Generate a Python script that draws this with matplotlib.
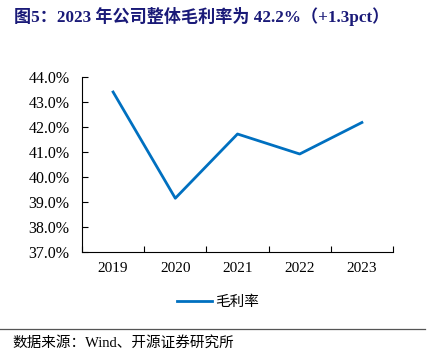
import matplotlib.pyplot as plt

years = ["2019", "2020", "2021", "2022", "2023"]
gross_margin = [43.4, 39.15, 41.72, 40.92, 42.18]
y_ticks = [37, 38, 39, 40, 41, 42, 43, 44]

plt.rcParams['font.family'] = ['Liberation Serif', 'Noto Sans CJK SC']

fig = plt.figure(figsize=(4.3, 3.64), dpi=100)
ax = fig.add_axes([82 / 430, 1 - 252 / 364, 311 / 430, 175 / 364])

x = range(len(years))
ax.plot(x, gross_margin, color="#0070C0", lw=2, label="毛利率")

ax.set_xlim(-0.5, len(years) - 0.5)
ax.set_ylim(37, 44)
ax.set_yticks(y_ticks)
ax.set_yticklabels([f"{v:.1f}%" for v in y_ticks], fontsize=11.5)
ax.set_xticks(list(x))
ax.set_xticklabels(years, fontsize=11)
ax.tick_params(axis="x", length=0, pad=7)
ax.set_xticks([i - 0.5 for i in range(len(years) + 1)], minor=True)
ax.tick_params(axis="x", which="minor", direction="in", length=4, width=0.8)
ax.tick_params(axis="y", direction="in", length=4, width=0.8, pad=9)

for s in ["top", "right"]:
    ax.spines[s].set_visible(False)
for s in ["left", "bottom"]:
    ax.spines[s].set_linewidth(0.8)

leg = ax.legend(loc="upper center", bbox_to_anchor=(0.437, -0.17), frameon=False,
                handlelength=2.4, handletextpad=0.2,
                prop={"family": ["Noto Sans CJK SC"], "size": 10.5})

fig.text(14 / 430, 1 - 16 / 364, "图5：2023 年公司整体毛利率为 42.2%（+1.3pct）",
         fontsize=12.3, fontweight="bold", color="#1A1A78", va="center",
         family=["Liberation Serif", "Noto Sans CJK SC"])
fig.add_artist(plt.Line2D([0, 425 / 430], [1 - 329 / 364] * 2, color="#555555", lw=0.9))
fig.text(12 / 430, 1 - 343 / 364, "数据来源：Wind、开源证券研究所", fontsize=10.5, va="center",
         family=["Liberation Serif", "Noto Sans CJK SC"])

fig.savefig("out.png", dpi=100)
